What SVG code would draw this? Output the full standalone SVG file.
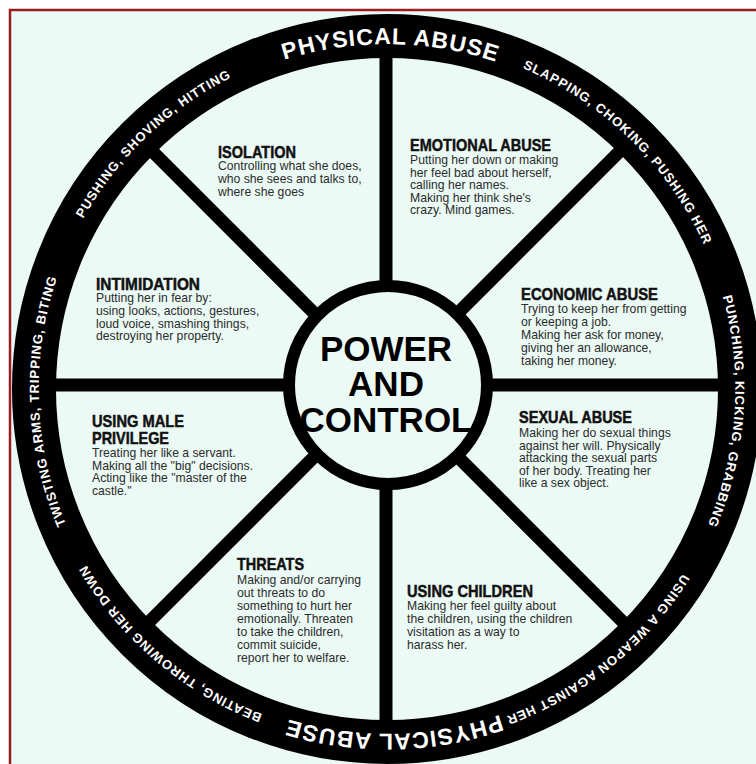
<svg xmlns="http://www.w3.org/2000/svg" xmlns:xlink="http://www.w3.org/1999/xlink" width="756" height="764" viewBox="0 0 756 764">
<style>
.hd{font-family:"Liberation Sans Narrow","Liberation Sans",Arial,sans-serif;font-weight:bold;font-size:17px;fill:#111;stroke:#111;stroke-width:0.5px}
.bd{font-family:"Liberation Sans",Arial,sans-serif;font-size:12.2px;fill:#2b2b2b}
.rs{font-family:"Liberation Sans",Arial,sans-serif;font-weight:bold;font-size:13px;letter-spacing:0.9px;fill:#fff}
.rb{font-family:"Liberation Sans",Arial,sans-serif;font-weight:bold;font-size:23px;letter-spacing:1px;fill:#fff}
.pc{font-family:"Liberation Sans",Arial,sans-serif;font-weight:bold;font-size:35px;fill:#000;text-anchor:middle}
.spoke{stroke:#000;stroke-width:13}
</style>
<defs>
<path id="ps" d="M38.7,389 A348.3,348.3 0 1 1 735.3,389 A348.3,348.3 0 1 1 38.7,389 A348.3,348.3 0 1 1 735.3,389 A348.3,348.3 0 1 1 38.7,389"/>
<path id="pb" d="M42.2,389 A344.8,344.8 0 1 1 731.8,389 A344.8,344.8 0 1 1 42.2,389 A344.8,344.8 0 1 1 731.8,389 A344.8,344.8 0 1 1 42.2,389"/>
<clipPath id="frame"><rect x="10" y="10" width="760" height="770"/></clipPath>
</defs>
<rect width="756" height="764" fill="#ffffff"/>
<rect x="10" y="10" width="760" height="770" fill="#ecfaf6"/>
<g id="connectors">
<line class="spoke" x1="386" y1="385" x2="386" y2="40"/>
<line class="spoke" x1="386" y1="385" x2="386" y2="730"/>
<line class="spoke" x1="386" y1="385" x2="41" y2="385"/>
<line class="spoke" x1="386" y1="385" x2="731" y2="385"/>
<line class="spoke" x1="386" y1="385" x2="142" y2="141"/>
<line class="spoke" x1="386" y1="385" x2="630" y2="141"/>
<line class="spoke" x1="386" y1="385" x2="142" y2="629"/>
<line class="spoke" x1="386" y1="385" x2="630" y2="629"/>
</g>
<g id="ring" clip-path="url(#frame)">
<circle cx="387" cy="389" r="353" fill="none" stroke="#000" stroke-width="44"/>
<text class="rb"><textPath xlink:href="#pb" href="#pb" startOffset="545" text-anchor="middle">PHYSICAL ABUSE</textPath></text>
<text class="rb"><textPath xlink:href="#pb" href="#pb" startOffset="1617" text-anchor="middle">PHYSICAL ABUSE</textPath></text>
<text class="rs"><textPath xlink:href="#ps" href="#ps" startOffset="282" text-anchor="middle">PUSHING, SHOVING, HITTING</textPath></text>
<text class="rs"><textPath xlink:href="#ps" href="#ps" startOffset="816" text-anchor="middle">SLAPPING, CHOKING, PUSHING HER</textPath></text>
<text class="rs"><textPath xlink:href="#ps" href="#ps" startOffset="1117" text-anchor="middle">PUNCHING, KICKING, GRABBING</textPath></text>
<text class="rs"><textPath xlink:href="#ps" href="#ps" startOffset="1404" text-anchor="middle">USING A WEAPON AGAINST HER</textPath></text>
<text class="rs"><textPath xlink:href="#ps" href="#ps" startOffset="1886" text-anchor="middle">BEATING, THROWING HER DOWN</textPath></text>
<text class="rs"><textPath xlink:href="#ps" href="#ps" startOffset="2175" text-anchor="middle">TWISTING ARMS, TRIPPING, BITING</textPath></text>
</g>
<rect x="10" y="10" width="760" height="770" fill="none" stroke="#9a1d1d" stroke-width="2.5"/>
<g id="hub">
<circle cx="388" cy="385" r="99" fill="#ecfaf6" stroke="#000" stroke-width="12"/>
<text class="pc" x="386" y="361">POWER</text>
<text class="pc" x="386" y="396">AND</text>
<text class="pc" x="386" y="432">CONTROL</text>
</g>
<g id="isolation">
<text class="hd" x="218" y="158" textLength="78" lengthAdjust="spacingAndGlyphs">ISOLATION</text>
<text class="bd" x="218" y="170">Controlling what she does,</text>
<text class="bd" x="218" y="183">who she sees and talks to,</text>
<text class="bd" x="218" y="196">where she goes</text>
</g>
<g id="emotional-abuse">
<text class="hd" x="410" y="151" textLength="141" lengthAdjust="spacingAndGlyphs">EMOTIONAL ABUSE</text>
<text class="bd" x="410" y="164">Putting her down or making</text>
<text class="bd" x="410" y="176.5">her feel bad about herself,</text>
<text class="bd" x="410" y="189">calling her names.</text>
<text class="bd" x="410" y="201.5">Making her think she's</text>
<text class="bd" x="410" y="214">crazy. Mind games.</text>
</g>
<g id="intimidation">
<text class="hd" x="96" y="290" textLength="104" lengthAdjust="spacingAndGlyphs">INTIMIDATION</text>
<text class="bd" x="96" y="302">Putting her in fear by:</text>
<text class="bd" x="96" y="315">using looks, actions, gestures,</text>
<text class="bd" x="96" y="327.5">loud voice, smashing things,</text>
<text class="bd" x="96" y="340">destroying her property.</text>
</g>
<g id="economic-abuse">
<text class="hd" x="521" y="300" textLength="137" lengthAdjust="spacingAndGlyphs">ECONOMIC ABUSE</text>
<text class="bd" x="521" y="313">Trying to keep her from getting</text>
<text class="bd" x="521" y="326">or keeping a job.</text>
<text class="bd" x="521" y="339">Making her ask for money,</text>
<text class="bd" x="521" y="352">giving her an allowance,</text>
<text class="bd" x="521" y="365">taking her money.</text>
</g>
<g id="using-male-privilege">
<text class="hd" x="92" y="427" textLength="92" lengthAdjust="spacingAndGlyphs">USING MALE</text>
<text class="hd" x="92" y="444" textLength="77" lengthAdjust="spacingAndGlyphs">PRIVILEGE</text>
<text class="bd" x="92" y="457">Treating her like a servant.</text>
<text class="bd" x="92" y="469.5">Making all the "big" decisions.</text>
<text class="bd" x="92" y="482">Acting like the "master of the</text>
<text class="bd" x="92" y="494.5">castle."</text>
</g>
<g id="sexual-abuse">
<text class="hd" x="519" y="423" textLength="113" lengthAdjust="spacingAndGlyphs">SEXUAL ABUSE</text>
<text class="bd" x="519" y="437">Making her do sexual things</text>
<text class="bd" x="519" y="449.5">against her will. Physically</text>
<text class="bd" x="519" y="462">attacking the sexual parts</text>
<text class="bd" x="519" y="474.5">of her body. Treating her</text>
<text class="bd" x="519" y="487">like a sex object.</text>
</g>
<g id="threats">
<text class="hd" x="237" y="570" textLength="67" lengthAdjust="spacingAndGlyphs">THREATS</text>
<text class="bd" x="237" y="584">Making and/or carrying</text>
<text class="bd" x="237" y="597">out threats to do</text>
<text class="bd" x="237" y="610">something to hurt her</text>
<text class="bd" x="237" y="623">emotionally. Threaten</text>
<text class="bd" x="237" y="636">to take the children,</text>
<text class="bd" x="237" y="649">commit suicide,</text>
<text class="bd" x="237" y="662">report her to welfare.</text>
</g>
<g id="using-children">
<text class="hd" x="407" y="597" textLength="126" lengthAdjust="spacingAndGlyphs">USING CHILDREN</text>
<text class="bd" x="407" y="610">Making her feel guilty about</text>
<text class="bd" x="407" y="623">the children, using the children</text>
<text class="bd" x="407" y="636">visitation as a way to</text>
<text class="bd" x="407" y="649">harass her.</text>
</g>
</svg>
